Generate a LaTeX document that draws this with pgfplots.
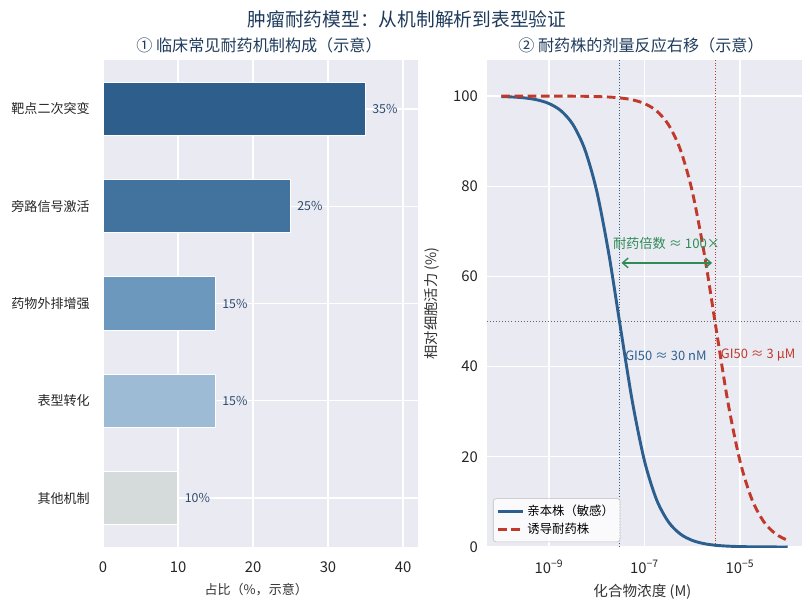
\documentclass[border=0pt]{standalone}
\usepackage{pgfplots}
\pgfplotsset{compat=1.18}
\usepackage{fontspec}
\setmainfont{Noto Sans CJK SC}
\usetikzlibrary{arrows.meta}
\definecolor{bgc}{HTML}{EAEAF2}
\definecolor{tickc}{HTML}{262626}
\definecolor{labc}{HTML}{333333}
\definecolor{navy}{HTML}{1F3B5C}
\definecolor{valc}{HTML}{2C4A6E}
\definecolor{cA}{HTML}{2E5E8C}
\definecolor{cB}{HTML}{42729E}
\definecolor{cC}{HTML}{6C98BD}
\definecolor{cD}{HTML}{9EBBD6}
\definecolor{cE}{HTML}{D5DBDB}
\definecolor{sblue}{HTML}{2C5F8E}
\definecolor{rred}{HTML}{C0392B}
\definecolor{ggreen}{HTML}{2E8B57}
\pgfplotsset{mystyle/.style={scale only axis, set layers,
  axis background/.style={fill=bgc},
  axis line style={draw=none},
  major tick style={draw=none}, minor tick style={draw=none},
  grid=major, major grid style={white, line width=0.9pt},
  tick label style={font=\fontsize{10.7}{12}\selectfont, text=tickc},
  /pgf/number format/assume math mode=true}}
\pgfplotstableread{
x y
1e-10 99.89
1.778e-10 99.79
3.162e-10 99.58
5.623e-10 99.16
1e-9 98.34
1.778e-9 96.74
3.162e-9 93.69
5.623e-9 88.16
1e-8 78.87
1.778e-8 65.16
3.162e-8 48.41
5.623e-8 31.99
1e-7 19.08
1.778e-7 10.57
3.162e-7 5.59
5.623e-7 2.88
1e-6 1.47
1.778e-6 0.74
3.162e-6 0.37
5.623e-6 0.19
1e-5 0.09
1.778e-5 0.05
3.162e-5 0.02
5.623e-5 0.01
1e-4 0.01
}\sens
\pgfplotstableread{
x y
1e-10 100.00
3.162e-10 100.00
1e-9 99.99
3.162e-9 99.97
5.623e-9 99.95
1e-8 99.89
1.778e-8 99.79
3.162e-8 99.58
5.623e-8 99.16
1e-7 98.34
1.778e-7 96.74
3.162e-7 93.69
5.623e-7 88.16
1e-6 78.87
1.778e-6 65.16
3.162e-6 48.41
5.623e-6 31.99
1e-5 19.08
1.778e-5 10.57
3.162e-5 5.59
5.623e-5 2.88
1e-4 1.47
}\resi
\begin{document}
\begin{tikzpicture}
% suptitle and titles
\node[text=navy, font=\fontsize{13.5}{16}\selectfont] at (293.0pt,426.2pt) {肿瘤耐药模型：从机制解析到表型验证};
\node[text=navy, font=\fontsize{11.6}{13}\selectfont] at (186.5pt,407.5pt) {① 临床常见耐药机制构成（示意）};
\node[text=navy, font=\fontsize{11.6}{13}\selectfont] at (461.5pt,407.5pt) {② 耐药株的剂量反应右移（示意）};
% left panel
\begin{axis}[mystyle, at={(74.16pt,46.08pt)}, anchor=south west,
  width=226.8pt, height=350.64pt,
  xmin=0, xmax=42, xtick={0,10,20,30,40},
  ymin=-0.5025, ymax=4.5025,
  ytick={0,1,2,3,4},
  yticklabels={其他机制,表型转化,药物外排增强,旁路信号激活,靶点二次突变},
  yticklabel style={font=\fontsize{9.4}{11}\selectfont, xshift=-6pt},
  xticklabel style={yshift=-7pt},
]
\addplot[xbar, bar width=38.5pt, bar shift=0pt, fill=cA, draw=white, line width=0.8pt,
  point meta=explicit symbolic, nodes near coords, nodes near coords style={font=\fontsize{8.9}{10}\selectfont, text=valc, anchor=west, xshift=3.5pt, inner sep=1pt}] coordinates {(35,4) [35\%]};
\addplot[xbar, bar width=38.5pt, bar shift=0pt, fill=cB, draw=white, line width=0.8pt,
  point meta=explicit symbolic, nodes near coords, nodes near coords style={font=\fontsize{8.9}{10}\selectfont, text=valc, anchor=west, xshift=3.5pt, inner sep=1pt}] coordinates {(25,3) [25\%]};
\addplot[xbar, bar width=38.5pt, bar shift=0pt, fill=cC, draw=white, line width=0.8pt,
  point meta=explicit symbolic, nodes near coords, nodes near coords style={font=\fontsize{8.9}{10}\selectfont, text=valc, anchor=west, xshift=3.5pt, inner sep=1pt}] coordinates {(15,2) [15\%]};
\addplot[xbar, bar width=38.5pt, bar shift=0pt, fill=cD, draw=white, line width=0.8pt,
  point meta=explicit symbolic, nodes near coords, nodes near coords style={font=\fontsize{8.9}{10}\selectfont, text=valc, anchor=west, xshift=3.5pt, inner sep=1pt}] coordinates {(15,1) [15\%]};
\addplot[xbar, bar width=38.5pt, bar shift=0pt, fill=cE, draw=white, line width=0.8pt,
  point meta=explicit symbolic, nodes near coords, nodes near coords style={font=\fontsize{8.9}{10}\selectfont, text=valc, anchor=west, xshift=3.5pt, inner sep=1pt}] coordinates {(10,0) [10\%]};
\end{axis}
\node[text=labc, font=\fontsize{9.4}{11}\selectfont] at (184.5pt,15.1pt) {占比（\%，示意）};
% right panel
\begin{axis}[mystyle, at={(350.64pt,46.08pt)}, anchor=south west,
  width=226.8pt, height=350.64pt,
  xmode=log, xmin=5.012e-11, xmax=1.995e-4,
  ymin=0, ymax=108,
  xtick={1e-9,1e-7,1e-5},
  xticklabels={10\textsuperscript{−9},10\textsuperscript{−7},10\textsuperscript{−5}},
  ytick={0,20,40,60,80,100},
  xticklabel style={yshift=-6pt},
  yticklabel style={xshift=-3pt},
  legend style={at={(0.019,0.01)}, anchor=south west,
    font=\fontsize{8.9}{10}\selectfont, fill=white, fill opacity=0.8, text opacity=1,
    draw=black!25, rounded corners=2pt, row sep=0pt, inner sep=2.5pt},
  legend cell align=left,
  legend image code/.code={\draw[#1] (0pt,0pt) -- (18pt,0pt);},
]
\addplot[forget plot, gray!80!black, line width=0.6pt, dash pattern=on 0.7pt off 1.5pt] coordinates {(5.012e-11,50) (1.995e-4,50)};
\addplot[forget plot, sblue, line width=0.7pt, dash pattern=on 0.7pt off 1.3pt] coordinates {(3e-8,0) (3e-8,108)};
\addplot[forget plot, rred, line width=0.7pt, dash pattern=on 0.7pt off 1.3pt] coordinates {(3e-6,0) (3e-6,108)};
\addplot[sblue, line width=2.1pt, smooth] table[x=x,y=y] {\sens};
\addlegendentry{亲本株（敏感）}
\addplot[rred, line width=2.1pt, dash pattern=on 6.2pt off 3.3pt, smooth] table[x=x,y=y] {\resi};
\addlegendentry{诱导耐药株}
\draw[ggreen, line width=1pt, {Straight Barb[length=4pt,width=7pt]}-{Straight Barb[length=4pt,width=7pt]}] (axis cs:3.3e-8,63) -- (axis cs:2.6e-6,63);
\node[text=ggreen, font=\fontsize{9.5}{11}\selectfont] at (axis cs:2.9e-7,67.4) {耐药倍数 ≈ 100×};
\node[text=sblue, font=\fontsize{9.3}{11}\selectfont, anchor=west, inner sep=0pt] at (axis cs:3.9e-8,42.5) {GI50 ≈ 30 nM};
\node[text=rred, font=\fontsize{9.3}{11}\selectfont, anchor=west, inner sep=0pt] at (axis cs:3.95e-6,42.5) {GI50 ≈ 3 μM};
\end{axis}
\node[text=labc, font=\fontsize{10.5}{12}\selectfont] at (462.5pt,13.7pt) {化合物浓度 (M)};
\node[text=labc, font=\fontsize{10.3}{12}\selectfont, rotate=90] at (311.0pt,221.4pt) {相对细胞活力 (\%)};
\pgfresetboundingbox
\path[use as bounding box] (0,0) rectangle (583.92pt,439.92pt);
\end{tikzpicture}
\end{document}
